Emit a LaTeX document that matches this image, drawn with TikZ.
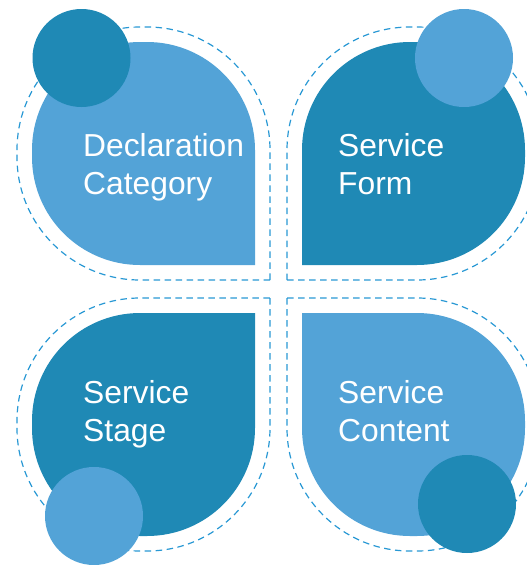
\documentclass[tikz,border=0pt]{standalone}
\usepackage{fontspec}
\setmainfont{Liberation Sans}
\definecolor{lightblue}{RGB}{83,163,215}
\definecolor{darkblue}{RGB}{31,137,181}
\definecolor{dashblue}{RGB}{40,152,212}
\begin{document}
\begin{tikzpicture}[x=1pt,y=-1pt,line join=round,
  petal/.style={rounded corners=108pt},
  ring/.style={draw=dashblue,line width=1.2pt,dash pattern=on 6.5pt off 4.5pt,rounded corners=123pt},
  label/.style={text=white,align=left,anchor=base west,inner sep=0pt,
    font=\fontsize{31.8}{38}\selectfont}]
\useasboundingbox (0,0) rectangle (527,565);
% dashed rings round the petals
\draw[ring] (270,280) -- (17,280) -- (17,27) -- (270,27) [sharp corners] -- cycle;
\draw[ring] (287,280) -- (287,27) -- (540,27) -- (540,280) [sharp corners] -- cycle;
\draw[ring] (270,298) -- (270,551) -- (17,551) -- (17,298) [sharp corners] -- cycle;
\draw[ring] (287,298) -- (540,298) -- (540,551) -- (287,551) [sharp corners] -- cycle;
% petals, square corner to the middle
\fill[lightblue,petal] (255,265) -- (32,265) -- (32,42) -- (255,42) [sharp corners] -- cycle;
\fill[darkblue,petal] (302,265) -- (302,42) -- (525,42) -- (525,265) [sharp corners] -- cycle;
\fill[darkblue,petal] (255,313) -- (255,536) -- (32,536) -- (32,313) [sharp corners] -- cycle;
\fill[lightblue,petal] (302,313) -- (525,313) -- (525,536) -- (302,536) [sharp corners] -- cycle;
% corner dots
\fill[darkblue] (81.5,58) circle (49);
\fill[lightblue] (464,58) circle (49);
\fill[lightblue] (94,516) circle (49);
\fill[darkblue] (467,504) circle (49);
% texts (base = baseline of the second line)
\node[label] (decl) at (83,194) {Declaration\\Category};
\node[label] (form) at (338,194) {Service\\Form};
\node[label] (stage) at (83,441.5) {Service\\Stage};
\node[label] (content) at (338,441.5) {Service\\Content};
\end{tikzpicture}
\end{document}
